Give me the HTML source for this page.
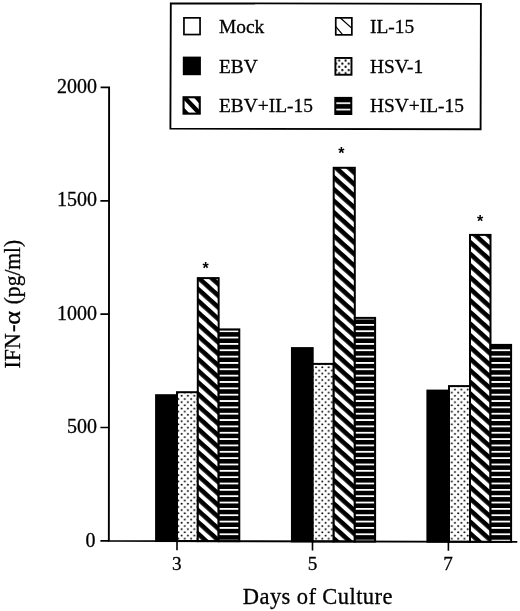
<!DOCTYPE html>
<html><head><meta charset="utf-8"><title>IFN-α chart</title>
<style>
html,body{margin:0;padding:0;background:#fff;}
body{width:520px;height:611px;overflow:hidden;}
svg{display:block;}
text{font-family:"Liberation Serif","Times New Roman",serif;fill:#000;stroke:#000;stroke-width:0.3px;stroke-linejoin:round;}
.ast text{font-family:"Liberation Sans",Arial,sans-serif;font-weight:bold;stroke:none;}
</style></head><body>
<svg width="520" height="611" viewBox="0 0 520 611">
<defs>
<pattern id="dg0" patternUnits="userSpaceOnUse" width="40" height="8.657" patternTransform="translate(200.04,404.29) rotate(42.0)"><rect width="40" height="8.657" fill="#fff"/><rect width="40" height="4.6" fill="#000"/></pattern>
<pattern id="dt0" patternUnits="userSpaceOnUse" x="180.01" y="394.21" width="6.35" height="6.35"><rect width="6.35" height="6.35" fill="#fff"/><circle cx="1.5875" cy="1.5875" r="1.02" fill="#000"/><circle cx="4.762499999999999" cy="4.762499999999999" r="1.02" fill="#000"/></pattern>
<pattern id="hr0" patternUnits="userSpaceOnUse" x="0" y="539.70" width="40" height="6.345"><rect width="40" height="6.345" fill="#000"/><rect width="40" height="1.8" fill="#fff"/></pattern>
<pattern id="dg1" patternUnits="userSpaceOnUse" width="40" height="8.657" patternTransform="translate(336.39,502.89) rotate(42.0)"><rect width="40" height="8.657" fill="#fff"/><rect width="40" height="4.6" fill="#000"/></pattern>
<pattern id="dt1" patternUnits="userSpaceOnUse" x="317.61" y="514.91" width="6.35" height="6.35"><rect width="6.35" height="6.35" fill="#fff"/><circle cx="1.5875" cy="1.5875" r="1.02" fill="#000"/><circle cx="4.762499999999999" cy="4.762499999999999" r="1.02" fill="#000"/></pattern>
<pattern id="hr1" patternUnits="userSpaceOnUse" x="0" y="539.70" width="40" height="6.345"><rect width="40" height="6.345" fill="#000"/><rect width="40" height="1.8" fill="#fff"/></pattern>
<pattern id="dg2" patternUnits="userSpaceOnUse" width="40" height="8.657" patternTransform="translate(472.54,241.29) rotate(42.0)"><rect width="40" height="8.657" fill="#fff"/><rect width="40" height="4.6" fill="#000"/></pattern>
<pattern id="dt2" patternUnits="userSpaceOnUse" x="453.41" y="514.91" width="6.35" height="6.35"><rect width="6.35" height="6.35" fill="#fff"/><circle cx="1.5875" cy="1.5875" r="1.02" fill="#000"/><circle cx="4.762499999999999" cy="4.762499999999999" r="1.02" fill="#000"/></pattern>
<pattern id="hr2" patternUnits="userSpaceOnUse" x="0" y="539.70" width="40" height="6.345"><rect width="40" height="6.345" fill="#000"/><rect width="40" height="1.8" fill="#fff"/></pattern>
<pattern id="dgL" patternUnits="userSpaceOnUse" width="40" height="8.657" patternTransform="translate(188.54,99.29) rotate(42.0)"><rect width="40" height="8.657" fill="#fff"/><rect width="40" height="4.6" fill="#000"/></pattern>
<pattern id="dtL" patternUnits="userSpaceOnUse" x="337.61" y="58.91" width="6.35" height="6.35"><rect width="6.35" height="6.35" fill="#fff"/><circle cx="1.5875" cy="1.5875" r="1.1" fill="#000"/><circle cx="4.762499999999999" cy="4.762499999999999" r="1.1" fill="#000"/></pattern>
<pattern id="hrL" patternUnits="userSpaceOnUse" x="0" y="102.35" width="40" height="6.345"><rect width="40" height="6.345" fill="#000"/><rect width="40" height="1.7" fill="#fff"/></pattern>
</defs>
<rect width="520" height="611" fill="#fff"/>
<!-- legend -->
<path d="M170.8 3.3L480.9 3.85L480.6 129.2L170.4 128.7Z" fill="#fff" stroke="#000" stroke-width="1.85"/>
<g font-size="19.4">
<rect x="183.95" y="17.85" width="16.1" height="16.7" fill="#fff" stroke="#000" stroke-width="1.7"/>
<text x="219" y="33.3">Mock</text>
<rect x="182.8" y="56.6" width="18.1" height="18.6" fill="#000"/>
<text x="219" y="72.9">EBV</text>
<clipPath id="cpA"><rect x="183.55" y="97.25" width="16.2" height="16.4"/></clipPath>
<g clip-path="url(#cpA)"><rect x="183" y="97" width="18" height="18" fill="#fff"/>
<path d="M183.7 96.65L199.5 113.25" stroke="#000" stroke-width="4.4" fill="none"/>
<path d="M193.6 97.25H199.75V103.9ZM183.55 107.2V113.65H189.8Z" fill="#000"/></g>
<rect x="183.55" y="97.25" width="16.2" height="16.4" fill="none" stroke="#000" stroke-width="2.1"/>
<text x="219" y="112.4">EBV+IL-15</text>
<rect x="335.75" y="17.85" width="16.1" height="17" fill="#fff" stroke="#000" stroke-width="1.7"/>
<path d="M340.4 18L352 28.4M335.6 26.3L342.8 34.9" stroke="#000" stroke-width="1.25" fill="none"/>
<text x="370" y="33.3">IL-15</text>
<rect x="335.4" y="57.95" width="16.1" height="16.8" fill="url(#dtL)" stroke="#000" stroke-width="1.9"/>
<text x="370" y="72.9">HSV-1</text>
<rect x="335.3" y="97.9" width="16" height="16.1" fill="url(#hrL)" stroke="#000" stroke-width="2"/>
<text x="370" y="112.4">HSV+IL-15</text>
</g>
<!-- bars -->
<rect x="156.10" y="395.20" width="20.90" height="145.84" fill="#000" stroke="#000" stroke-width="2.0"/>
<rect x="177.00" y="392.20" width="20.80" height="148.89" fill="url(#dt0)" stroke="#000" stroke-width="2.0"/>
<rect x="197.80" y="278.10" width="20.85" height="263.04" fill="url(#dg0)" stroke="#000" stroke-width="2.0"/>
<rect x="218.65" y="329.40" width="20.65" height="211.79" fill="url(#hr0)" stroke="#000" stroke-width="2.0"/>
<rect x="291.95" y="348.10" width="20.75" height="193.27" fill="#000" stroke="#000" stroke-width="2.0"/>
<rect x="312.70" y="363.90" width="21.00" height="177.52" fill="url(#dt1)" stroke="#000" stroke-width="2.0"/>
<rect x="333.70" y="167.80" width="21.10" height="373.68" fill="url(#dg1)" stroke="#000" stroke-width="2.0"/>
<rect x="354.80" y="317.90" width="20.30" height="223.63" fill="url(#hr1)" stroke="#000" stroke-width="2.0"/>
<rect x="427.40" y="390.60" width="21.60" height="151.11" fill="#000" stroke="#000" stroke-width="2.0"/>
<rect x="449.00" y="386.10" width="21.00" height="155.66" fill="url(#dt2)" stroke="#000" stroke-width="2.0"/>
<rect x="470.00" y="234.90" width="20.50" height="306.91" fill="url(#dg2)" stroke="#000" stroke-width="2.0"/>
<rect x="490.50" y="344.90" width="20.60" height="196.96" fill="url(#hr2)" stroke="#000" stroke-width="2.0"/>
<!-- axes -->
<g stroke="#000" stroke-width="1.9" fill="none">
<path d="M100.6 87.4H109.1L108.85 540.9L517.3 541.9"/>
<path d="M100.4 200.8H109.2M100.4 314.2H109.2M100.4 427.5H109.2M100.4 540.9H109.2" stroke-width="1.7"/>
<path d="M177 540.9V550.3M312.5 540.9V550.5M448.4 540.9V550.7" stroke-width="1.6"/>
</g>
<g font-size="20" text-anchor="end">
<text x="97" y="93">2000</text>
<text x="97" y="206.3">1500</text>
<text x="97" y="319.7">1000</text>
<text x="97" y="433.0">500</text>
<text x="95.6" y="547.3">0</text>
</g>
<g font-size="19.2" text-anchor="middle">
<text x="176.8" y="570.1">3</text>
<text x="312.5" y="569.9">5</text>
<text x="448.0" y="569.9">7</text>
</g>
<g class="ast" font-size="16" text-anchor="middle">
<text x="205.5" y="274.3">*</text>
<text x="341.3" y="159.1">*</text>
<text x="480" y="226.9">*</text>
</g>
<text x="242.8" y="603.8" font-size="22.5" textLength="149.6" lengthAdjust="spacing">Days of Culture</text>
<g transform="translate(19.5,368.5) rotate(-90)" font-size="22.5">
<text x="0" y="0" textLength="35.2" lengthAdjust="spacingAndGlyphs">IFN</text>
<text x="36.6" y="0">-</text>
<text x="43.8" y="0" font-size="23.5" textLength="13.8" lengthAdjust="spacingAndGlyphs">α</text>
<text x="64.2" y="0" textLength="64.6" lengthAdjust="spacingAndGlyphs">(pg/ml)</text>
</g>
</svg>
</body></html>
